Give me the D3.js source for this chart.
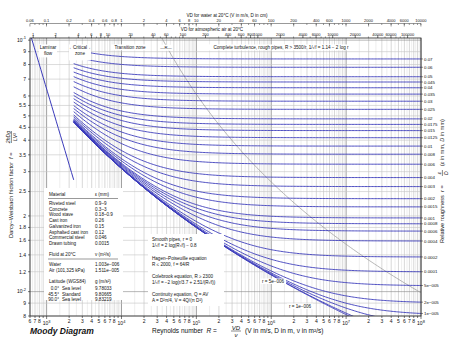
<!DOCTYPE html>
<html><head><meta charset="utf-8">
<script src="https://cdn.jsdelivr.net/npm/d3@7"></script>
<style>
body{margin:0;background:#fff}
text{font-family:"Liberation Sans",Arial,sans-serif;fill:#111}
</style>
</head><body>
<svg id="chart" width="474" height="350"></svg>
<script>
// ---------------- data ----------------
const roughness = [0.07,0.06,0.05,0.045,0.04,0.035,0.03,0.025,0.02,0.0175,0.015,0.0125,0.01,0.008,0.006,0.004,0.003,0.002,0.0015,0.001,0.0008,0.0006,0.0004,0.0002,0.0001,5e-5,2e-5,1e-5];
const roughnessLabels = ["0.07","0.06","0.05","0.045","0.04","0.035","0.03","0.025","0.02","0.0175","0.015","0.0125","0.01","0.008","0.006","0.004","0.003","0.002","0.0015","0.001","0.0008","0.0006","0.0004","0.0002","0.0001","5e\u2212005","2e\u2212005","1e\u2212005"];
const extraRoughness = [5e-6, 1e-6, 0];
const reynoldsDomain = [600, 1e8];
const frictionDomain = [0.008, 0.102];
const laminarEnd = 2300;        // Hagen-Poiseuille line end
const colebrookStart = 2300;    // Colebrook curves start
const fTicks = [0.1,0.09,0.08,0.07,0.06,0.055,0.05,0.045,0.04,0.035,0.03,0.025,0.02,0.018,0.016,0.014,0.012,0.01,0.009,0.008];
const fTickLabels = ["10|-1","9","8","7","6","5.5","5","4.5","4","3.5","3","2.5","2","1.8","1.6","1.4","1.2","10|-2","9","8"];
const waterVD = [0.06,0.1,0.2,0.4,0.6,0.8,1,2,4,6,8,10,20,40,60,100,200,400,600,1000,2000,4000,6000,10000];
const airVD = [1,2,4,6,8,10,20,40,60,100,200,400,600,800,1000,2000,4000,6000,10000,20000,40000,60000,100000];
const nuWater = 1.003e-6, nuAir = 1.511e-5;
const materials = [["Riveted steel","0.9\u20139"],["Concrete","0.3\u20133"],["Wood stave","0.18\u20130.9"],["Cast iron","0.26"],["Galvanized iron","0.15"],["Asphalted cast iron","0.12"],["Commercial steel","0.046"],["Drawn tubing","0.0015"]];
const fluids = [["Water","1.003e\u2212006"],["Air (101,325 kPa)","1.511e\u2212005"]];
const gravity = [["0.0\u00b0","Sea level","9.78033"],["45.5\u00b0","Standard","9.80665"],["90.0\u00b0","Sea level","9.83219"]];

// ---------------- layout ----------------
const L=30, R=421, T=38, B=316;
const svg = d3.select("#chart");
const x = d3.scaleLog().domain(reynoldsDomain).range([L,R]);
const y = d3.scaleLog().domain(frictionDomain).range([B,T]);
const blue = "#3b3bbb";

function colebrook(r, Re){
  let s = 8;
  for(let i=0;i<60;i++){ s = -2*Math.log10(r/3.7 + 2.51*s/Re); }
  return 1/(s*s);
}
function fTurb(r){ const s = 1.14 - 2*Math.log10(r); return 1/(s*s); }

svg.append("clipPath").attr("id","plot").append("rect").attr("x",L).attr("y",T).attr("width",R-L).attr("height",B-T);

// ---------------- grid ----------------
const grid = svg.append("g");
const vminor=[], vmid=[], vmajor=[];
for(let e=2;e<=8;e++){
  for(let k=1;k<10;k+=0.5){
    const v=k*Math.pow(10,e);
    if(v<reynoldsDomain[0]||v>reynoldsDomain[1]) continue;
    if(k===1) vmajor.push(v); else if(Number.isInteger(k)) vmid.push(v); else vminor.push(v);
  }
}
grid.selectAll(".vn").data(vminor).join("line").attr("x1",d=>x(d)).attr("x2",d=>x(d)).attr("y1",T).attr("y2",B).attr("stroke","#e2e2e2").attr("stroke-width",0.6);
grid.selectAll(".vm").data(vmid).join("line").attr("x1",d=>x(d)).attr("x2",d=>x(d)).attr("y1",T).attr("y2",B).attr("stroke","#bdbdbd").attr("stroke-width",0.6);
grid.selectAll(".vM").data(vmajor).join("line").attr("x1",d=>x(d)).attr("x2",d=>x(d)).attr("y1",T).attr("y2",B).attr("stroke","#888").attr("stroke-width",0.8);
grid.selectAll(".h").data(fTicks).join("line").attr("x1",L).attr("x2",R).attr("y1",d=>y(d)).attr("y2",d=>y(d)).attr("stroke",d=>(d===0.1||d===0.01)?"#888":"#c4c4c4").attr("stroke-width",0.6);

// ---------------- curves ----------------
const curves = svg.append("g").attr("clip-path","url(#plot)");
const line = d3.line().x(d=>x(d[0])).y(d=>y(d[1]));
const Rs = d3.range(0,241).map(i=>colebrookStart*Math.pow(reynoldsDomain[1]/colebrookStart,i/240));
// dashed boundary of complete turbulence R = 3500/r
const rs = d3.range(0,121).map(i=>Math.pow(10,-0.9 - i*4.3/120));
curves.append("path").attr("d",line(rs.map(r=>[3500/r,fTurb(r)]))).attr("fill","none").attr("stroke","#999").attr("stroke-width",0.7);
// laminar
curves.append("path").attr("d",line(d3.range(0,21).map(i=>{const Re=600*Math.pow(laminarEnd/600,i/20);return [Re,64/Re];}))).attr("fill","none").attr("stroke",blue).attr("stroke-width",1);
curves.selectAll(".cb").data(roughness.concat(extraRoughness)).join("path")
  .attr("d",r=>line(Rs.map(Re=>[Re,colebrook(r,Re)])))
  .attr("fill","none").attr("stroke",blue).attr("stroke-width",0.9);

// frame
svg.append("rect").attr("x",L).attr("y",T).attr("width",R-L).attr("height",B-T).attr("fill","none").attr("stroke","#222").attr("stroke-width",0.8);

// ---------------- left axis ----------------
function supLabel(sel, s){
  const p = s.split("|");
  sel.text(p[0]);
  if(p[1]) sel.append("tspan").attr("dy",-2.5).attr("font-size",4).text(p[1]);
}
const la = svg.append("g");
fTicks.forEach((v,i)=>{
  la.append("line").attr("x1",L-2).attr("x2",L).attr("y1",y(v)).attr("y2",y(v)).attr("stroke","#222").attr("stroke-width",0.6);
  const t = la.append("text").attr("x",L-4).attr("y",y(v)+1.8).attr("font-size",5).attr("text-anchor","end");
  supLabel(t, fTickLabels[i]);
});

// ---------------- bottom axis ----------------
const ba = svg.append("g");
for(let e=2;e<=8;e++){
  for(let k=1;k<=9;k++){
    const v=k*Math.pow(10,e);
    if(v<reynoldsDomain[0]*0.999||v>reynoldsDomain[1]*1.001) continue;
    ba.append("line").attr("x1",x(v)).attr("x2",x(v)).attr("y1",B).attr("y2",B+(k===1?3:2)).attr("stroke","#222").attr("stroke-width",0.6);
    if(k===9) continue;
    const t = ba.append("text").attr("x",x(v)).attr("y",B+7).attr("font-size",5).attr("text-anchor","middle");
    if(k===1){ t.attr("y",B+9); supLabel(t,"10|"+e); } else t.text(k);
  }
}

// ---------------- right axis ----------------
const ra = svg.append("g");
roughness.forEach((r,i)=>{
  const fy = y(colebrook(r, reynoldsDomain[1]));
  ra.append("line").attr("x1",R).attr("x2",R+2).attr("y1",fy).attr("y2",fy).attr("stroke","#222").attr("stroke-width",0.5);
  ra.append("text").attr("x",R+3).attr("y",fy+1.6).attr("font-size",4.4).text(roughnessLabels[i]);
});

// ---------------- top axes ----------------
const ta = svg.append("g");
function topAxis(vals, factor, yLine, yLabel, tickUp){
  const minor=[];
  for(let e=-2;e<=5;e++) for(let k=1;k<=9;k++){ const v=k*Math.pow(10,e); const Re=v*factor; if(Re>=reynoldsDomain[0]&&Re<=reynoldsDomain[1]) minor.push(v); }
  minor.forEach(v=>{ ta.append("line").attr("x1",x(v*factor)).attr("x2",x(v*factor)).attr("y1",yLine).attr("y2",yLine+(tickUp?-1.5:1.5)).attr("stroke","#333").attr("stroke-width",0.5); });
  vals.forEach(v=>{
    ta.append("line").attr("x1",x(v*factor)).attr("x2",x(v*factor)).attr("y1",yLine).attr("y2",yLine+(tickUp?-3:3)).attr("stroke","#333").attr("stroke-width",0.5);
    ta.append("text").attr("x",x(v*factor)).attr("y",yLabel).attr("font-size",4).attr("text-anchor","middle").text(v);
  });
}
ta.append("line").attr("x1",L).attr("x2",R).attr("y1",23.5).attr("y2",23.5).attr("stroke","#333").attr("stroke-width",0.5);
topAxis(waterVD, 0.01/nuWater, 23.5, 21.5, false);
topAxis(airVD, 0.01/nuAir, T, 35.5, true);
svg.append("text").attr("x",227).attr("y",16.5).attr("font-size",4.6).attr("text-anchor","middle").text("VD for water at 20\u00b0C (V in m/s, D in cm)");
svg.append("text").attr("x",212).attr("y",30.5).attr("font-size",4.6).attr("text-anchor","middle").text("VD for atmospheric air at 20\u00b0C");

// ---------------- header labels inside plot ----------------
const hd = svg.append("g");
function boxText(cx, lines, yy, fs, w, h){
  hd.append("rect").attr("x",cx-w/2).attr("y",yy-fs).attr("width",w).attr("height",h).attr("fill","#fff");
  lines.forEach((s,i)=>hd.append("text").attr("x",cx).attr("y",yy+i*(fs+1.5)).attr("font-size",fs).attr("text-anchor","middle").text(s));
}
boxText(48,["Laminar","flow"],49,4.6,18,13);
boxText(80,["\u2192 Critical \u2190","zone"],49,4.6,22,16);
boxText(130,["Transition zone"],49,4.6,38,6);
boxText(166,["\u2014R\u2014"],49,4.2,12,6);
boxText(281,["Complete turbulence, rough pipes, R > 3500/r,  1/\u221af = 1.14 \u2212 2 log r"],49,4.6,146,6);

// ---------------- tables ----------------
const tb = svg.append("g");
tb.append("rect").attr("x",44).attr("y",188).attr("width",79).attr("height",112).attr("fill","#fff");
const fs=4.6, tx1=49, tx2=95;
function row(a,b,yy,extra){ tb.append("text").attr("x",tx1).attr("y",yy).attr("font-size",fs).text(a); tb.append("text").attr("x",tx2).attr("y",yy).attr("font-size",fs).text(b); }
row("Material","\u03b5 (mm)",195.5);
tb.append("line").attr("x1",48).attr("x2",118).attr("y1",198.5).attr("y2",198.5).attr("stroke","#333").attr("stroke-width",0.5);
materials.forEach((m,i)=>row(m[0],m[1],205+i*5.7));
row("Fluid at 20\u00b0C","\u03bd (m\u00b2/s)",255.5);
tb.append("line").attr("x1",48).attr("x2",118).attr("y1",259).attr("y2",259).attr("stroke","#333").attr("stroke-width",0.5);
fluids.forEach((m,i)=>row(m[0],m[1],266+i*5.7));
row("Latitude (WGS84)","g (m/s\u00b2)",283);
gravity.forEach((g,i)=>{
  const yy=290+i*5.5;
  tb.append("text").attr("x",59).attr("y",yy).attr("font-size",fs).attr("text-anchor","end").text(g[0]);
  tb.append("text").attr("x",62).attr("y",yy).attr("font-size",fs).text(g[1]);
  tb.append("text").attr("x",tx2).attr("y",yy).attr("font-size",fs).text(g[2]);
});

const eq = svg.append("g");
eq.append("rect").attr("x",148).attr("y",234).attr("width",76).attr("height",72).attr("fill","#fff");
const eqLines=[["Smooth pipes, r = 0",241],["1/\u221af = 2 log(R\u221af) \u2212 0.8",247],["Hagen\u2013Poiseuille equation",259.5],["R \u2264 2000,  f = 64/R",265.5],["Colebrook equation, R \u2265 2300",278],["1/\u221af = \u22122 log(r/3.7 + 2.51/(R\u221af))",284],["Continuity equation, Q = AV",296],["A = D\u00b2\u03c0/4,  V = 4Q/(\u03c0 D\u00b2)",302]];
eqLines.forEach(e=>eq.append("text").attr("x",152).attr("y",e[1]).attr("font-size",4.6).text(e[0]));

// in-plot labels
function tag(s,cx,yy,w){ svg.append("rect").attr("x",cx-w/2).attr("y",yy-4).attr("width",w).attr("height",5.5).attr("fill","#fff"); svg.append("text").attr("x",cx).attr("y",yy).attr("font-size",4.6).attr("text-anchor","middle").text(s); }
tag("r = 5e\u2212006",273,282.5,26);
tag("r = 1e\u2212006",300,307.5,26);

// ---------------- titles ----------------
svg.append("text").attr("x",30).attr("y",334).attr("font-size",8.5).attr("font-weight","bold").attr("font-style","italic").text("Moody Diagram");
const xt = svg.append("g").attr("transform","translate(152,333)");
xt.append("text").attr("x",0).attr("y",0).attr("font-size",6.5).html("Reynolds number &#160;<tspan font-style='italic'>R</tspan> =");
xt.append("text").attr("x",84).attr("y",-3.5).attr("font-size",6).attr("text-anchor","middle").attr("font-style","italic").text("VD");
xt.append("line").attr("x1",79).attr("x2",89).attr("y1",-2).attr("y2",-2).attr("stroke","#111").attr("stroke-width",0.5);
xt.append("text").attr("x",84).attr("y",4).attr("font-size",6).attr("text-anchor","middle").attr("font-style","italic").text("\u03bd");
xt.append("text").attr("x",93).attr("y",0).attr("font-size",6.5).text("(V in m/s, D in m, \u03bd in m\u00b2/s)");

const yt = svg.append("g").attr("transform","translate(13,238) rotate(-90)");
yt.append("text").attr("x",0).attr("y",0).attr("font-size",5.6).html("Darcy\u2212Weisbach friction factor &#160;<tspan font-style='italic'>f</tspan> =");
yt.append("text").attr("x",101).attr("y",-3).attr("font-size",5.2).attr("text-anchor","middle").attr("font-style","italic").text("2hDg");
yt.append("line").attr("x1",95).attr("x2",107).attr("y1",-1.6).attr("y2",-1.6).attr("stroke","#111").attr("stroke-width",0.5);
yt.append("text").attr("x",101).attr("y",4.2).attr("font-size",5.2).attr("text-anchor","middle").attr("font-style","italic").text("LV\u00b2");

const rt = svg.append("g").attr("transform","translate(444,243) rotate(-90)");
rt.append("text").attr("x",0).attr("y",0).attr("font-size",5.6).html("Relative roughness &#160;<tspan font-style='italic'>r</tspan> =");
rt.append("text").attr("x",70).attr("y",-3).attr("font-size",5.2).attr("text-anchor","middle").attr("font-style","italic").text("\u03b5");
rt.append("line").attr("x1",67).attr("x2",73).attr("y1",-1.6).attr("y2",-1.6).attr("stroke","#111").attr("stroke-width",0.5);
rt.append("text").attr("x",70).attr("y",4.2).attr("font-size",5.2).attr("text-anchor","middle").attr("font-style","italic").text("D");
rt.append("text").attr("x",77).attr("y",0).attr("font-size",5.6).html("(<tspan font-style='italic'>\u03b5</tspan> in mm, <tspan font-style='italic'>D</tspan> in mm)");
</script>
</body></html>
